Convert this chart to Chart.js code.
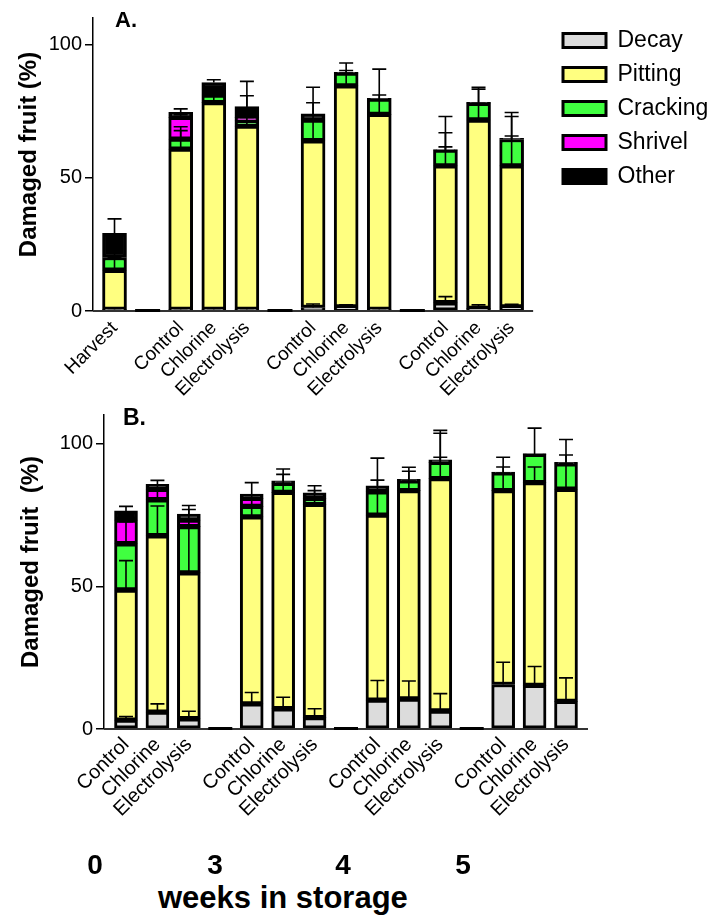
<!DOCTYPE html>
<html>
<head>
<meta charset="utf-8">
<script src="https://cdn.jsdelivr.net/npm/chart.js@4.4.0/dist/chart.umd.min.js"></script>
<style>
  body { margin: 0; background: #fff; }
  #wrap { position: relative; width: 712px; height: 919px; font-family: "Liberation Sans", Arial, sans-serif; }
  canvas { position: absolute; left: 0; }
  .tag { position: absolute; font-weight: bold; color: #000; line-height: 1; white-space: nowrap; }
</style>
</head>
<body>
<div id="wrap">
  <canvas id="chartA" width="712" height="400" style="top:0"></canvas>
  <canvas id="chartB" width="712" height="480" style="top:400px"></canvas>
  <div class="tag" style="left:115px;top:9px;font-size:22px">A.</div>
  <div class="tag" style="left:123px;top:406px;font-size:23px">B.</div>
  <div class="tag" style="left:158px;top:882px;font-size:31px">weeks in storage</div>
</div>
<script>
// panel A: harvest + 3 treatments at each of 3 storage times
var labelsA = ['Harvest', '', 'Control', 'Chlorine', 'Electrolysis', '', 'Control', 'Chlorine', 'Electrolysis', '', 'Control', 'Chlorine', 'Electrolysis'];
var decayA    = [0.6, 0, 0.6, 0.6, 0.6, 0, 1.3, 1.5, 0.6, 0, 3.1, 1.0, 1.5];
var pittingA  = [14.7, 0, 60.2, 77.6, 68.8, 0, 62.6, 83.0, 73.2, 0, 51.4, 70.7, 53.0];
var crackingA = [4.8, 0, 3.7, 2.9, 2.0, 0, 7.8, 4.8, 5.8, 0, 5.9, 6.3, 9.9];
var shrivelA  = [0, 0, 8.2, 0, 1.3, 0, 0, 0, 0, 0, 0, 0, 0];
var otherA    = [9.1, 0, 1.9, 4.7, 4.0, 0, 2.3, 0.3, 0.2, 0, 0.2, 0.3, 0.4];
var decayErrA    = [0.4, 0, 0.4, 0.4, 0.4, 0, 1.3, 0.8, 0.4, 0, 2.3, 1.3, 1.0];
var pittingErrA  = [4.7, 0, 6.9, 2.9, 2.0, 0, 7.8, 4.8, 7.3, 0, 7.1, 6.3, 11.2];
var crackingErrA = [3.0, 0, 4.7, 2.0, 1.3, 0, 6.5, 1.0, 11.2, 0, 6.5, 5.3, 8.6];
var shrivelErrA  = [0, 0, 1.0, 0, 8.1, 0, 0, 0, 0, 0, 0, 0, 0];
var otherErrA    = [5.4, 0, 1.3, 1.0, 9.5, 0, 10.0, 3.5, 0, 0, 12.4, 5.7, 9.7];

// panel B
var labelsB = ['Control', 'Chlorine', 'Electrolysis', '', 'Control', 'Chlorine', 'Electrolysis', '', 'Control', 'Chlorine', 'Electrolysis', '', 'Control', 'Chlorine', 'Electrolysis'];
var decayB    = [3.1, 5.9, 3.6, 0, 8.8, 7.1, 4.0, 0, 10.1, 10.5, 6.3, 0, 15.6, 15.3, 9.7];
var pittingB  = [45.6, 61.8, 51.1, 0, 65.5, 75.8, 74.7, 0, 64.8, 73.0, 81.4, 0, 67.9, 71.0, 74.3];
var crackingB = [16.2, 12.6, 16.2, 0, 3.7, 3.2, 2.1, 0, 8.2, 3.4, 5.7, 0, 6.2, 9.9, 8.9];
var shrivelB  = [8.3, 3.7, 2.3, 0, 2.8, 0, 0, 0, 0, 0, 0, 0, 0, 0, 0];
var otherB    = [3.2, 1.7, 2.1, 0, 1.5, 0.8, 1.9, 0, 2.1, 0.6, 0.9, 0, 0.3, 0.3, 0.5];
var decayErrB    = [1.3, 2.9, 2.6, 0, 4.0, 4.0, 3.1, 0, 6.9, 6.3, 6.1, 0, 7.8, 6.6, 8.2];
var pittingErrB  = [10.3, 10.4, 15.7, 0, 3.7, 3.2, 2.1, 0, 8.2, 3.4, 7.5, 0, 6.2, 5.5, 8.9];
var crackingErrB = [7.7, 3.7, 2.3, 0, 2.8, 3.1, 2.7, 0, 4.1, 3.4, 10.2, 0, 2.1, 9.2, 3.1];
var shrivelErrB  = [2.0, 1.5, 3.7, 0, 1.0, 0, 0, 0, 0, 0, 0, 0, 0, 0, 0];
var otherErrB    = [1.6, 1.4, 3.0, 0, 4.0, 4.2, 2.5, 0, 9.7, 4.2, 10.3, 0, 5.2, 0, 8.0];

var weeks = ['0', '3', '4', '5'];
var weekX = [95, 215, 343, 463];
var yTicks = [0, 50, 100];

var seriesNames = ['Decay', 'Pitting', 'Cracking', 'Shrivel', 'Other'];
var seriesColors = ['#dcdcdc', '#ffff80', '#40ff40', '#ff00ff', '#000000'];

Chart.defaults.font.family = '"Liberation Sans", Arial, sans-serif';
Chart.defaults.color = '#000';

// error bars on top of every stacked segment, plus the flat mark for empty slots
var errorBarPlugin = {
    id: 'errorBars',
    afterDatasetsDraw: function (chart, args, opts) {
        var ctx = chart.ctx;
        var xs = chart.scales.x, ys = chart.scales.y;
        var sets = chart.data.datasets;
        ctx.save();
        ctx.strokeStyle = '#000';
        ctx.lineWidth = 1.6;
        sets.forEach(function (ds, d) {
            chart.getDatasetMeta(d).data.forEach(function (bar, i) {
                var e = opts.errors[d][i];
                if (!e) return;
                var top = 0;
                for (var k = 0; k <= d; k++) top += sets[k].data[i].y;
                var y0 = ys.getPixelForValue(top);
                var y1 = ys.getPixelForValue(top + e);
                ctx.beginPath();
                ctx.moveTo(bar.x, y0);
                ctx.lineTo(bar.x, y1);
                ctx.moveTo(bar.x - opts.cap / 2, y1);
                ctx.lineTo(bar.x + opts.cap / 2, y1);
                ctx.stroke();
            });
        });
        var base = ys.getPixelForValue(0);
        // x axis line
        ctx.strokeStyle = '#333';
        ctx.lineWidth = 2;
        ctx.beginPath();
        ctx.moveTo(chart.chartArea.left, base);
        ctx.lineTo(xs.getPixelForValue(opts.axisEnd), base);
        ctx.stroke();
        // empty categories
        ctx.fillStyle = '#000';
        sets[0].data.forEach(function (pt, i) {
            var total = 0;
            sets.forEach(function (s) { total += s.data[i].y; });
            if (total > 0) return;
            var cx = xs.getPixelForValue(pt.x);
            ctx.fillRect(cx - opts.emptyWidth / 2, base - 2, opts.emptyWidth, 3);
        });
        ctx.restore();
    }
};

function buildDatasets(values, thickness) {
    return values.map(function (vals, d) {
        return {
            label: seriesNames[d],
            data: vals.map(function (v, i) { return { x: i, y: v }; }),
            backgroundColor: seriesColors[d],
            borderColor: '#000',
            borderWidth: 3,
            borderSkipped: false,
            barThickness: thickness
        };
    });
}

function makeOptions(labels, cfg) {
    return {
        responsive: false,
        animation: false,
        layout: { padding: cfg.padding },
        plugins: {
            legend: cfg.legend,
            tooltip: { enabled: false },
            errorBars: { errors: cfg.errors, cap: 14, axisEnd: cfg.axisEnd, emptyWidth: cfg.thickness + 1 }
        },
        scales: {
            x: {
                type: 'linear',
                stacked: true,
                offset: false,
                min: cfg.xMin,
                max: cfg.xMax,
                afterBuildTicks: function (s) {
                    s.ticks = labels.map(function (l, i) { return { value: i }; });
                },
                afterFit: function (s) { s.height = cfg.xHeight; },
                ticks: {
                    autoSkip: false,
                    minRotation: 45,
                    maxRotation: 45,
                    padding: cfg.tickPad,
                    color: '#000',
                    font: { size: cfg.tickSize },
                    callback: function (v) { return labels[v]; }
                },
                grid: { display: false, drawTicks: false },
                border: { display: false }
            },
            y: {
                stacked: true,
                min: 0,
                max: 110,
                afterBuildTicks: function (s) {
                    s.ticks = yTicks.map(function (v) { return { value: v }; });
                },
                afterFit: function (s) { s.width = cfg.yWidth; },
                ticks: { padding: 3, color: '#000', font: { size: 20 } },
                grid: { drawOnChartArea: false, drawTicks: true, tickLength: 8, color: '#000', lineWidth: 1.5 },
                border: { display: true, color: '#000', width: 1.5 },
                title: {
                    display: true,
                    // leading spaces nudge the visible text up, as in the original
                    text: '   ' + cfg.yTitle,
                    color: '#000',
                    font: { size: 24, weight: 'bold' },
                    padding: { top: cfg.titlePad, bottom: 0 }
                }
            }
        }
    };
}

var chartA = new Chart(document.getElementById('chartA').getContext('2d'), {
    type: 'bar',
    data: { datasets: buildDatasets([decayA, pittingA, crackingA, shrivelA, otherA], 24) },
    options: makeOptions(labelsA, {
        padding: { top: 18, right: 0 },
        legend: {
            display: true,
            position: 'right',
            align: 'start',
            maxWidth: 160,
            labels: { boxWidth: 43, boxHeight: 14, padding: 11, color: '#000', font: { size: 23 } }
        },
        errors: [decayErrA, pittingErrA, crackingErrA, shrivelErrA, otherErrA],
        thickness: 24,
        axisEnd: 12.65,
        xMin: -0.65,
        xMax: 13.22,
        xHeight: 89,
        yWidth: 93,
        tickSize: 19,
        tickPad: 6,
        yTitle: 'Damaged fruit (%)',
        titlePad: 15
    }),
    plugins: [errorBarPlugin]
});

var chartB = new Chart(document.getElementById('chartB').getContext('2d'), {
    type: 'bar',
    data: { datasets: buildDatasets([decayB, pittingB, crackingB, shrivelB, otherB], 23) },
    options: makeOptions(labelsB, {
        padding: { top: 8, right: 124 },
        legend: { display: false },
        errors: [decayErrB, pittingErrB, crackingErrB, shrivelErrB, otherErrB],
        thickness: 23,
        axisEnd: 14.7,
        xMin: -0.7,
        xMax: 14.7,
        xHeight: 151,
        yWidth: 104,
        tickSize: 20,
        tickPad: 4,
        yTitle: 'Damaged fruit  (%)',
        titlePad: 17
    }),
    plugins: [errorBarPlugin]
});

var wrap = document.getElementById('wrap');
weeks.forEach(function (w, k) {
    var el = document.createElement('div');
    el.className = 'tag';
    el.style.fontSize = '28px';
    el.style.width = '40px';
    el.style.textAlign = 'center';
    el.style.left = (weekX[k] - 20) + 'px';
    el.style.top = '851px';
    el.textContent = w;
    wrap.appendChild(el);
});
</script>
</body>
</html>
